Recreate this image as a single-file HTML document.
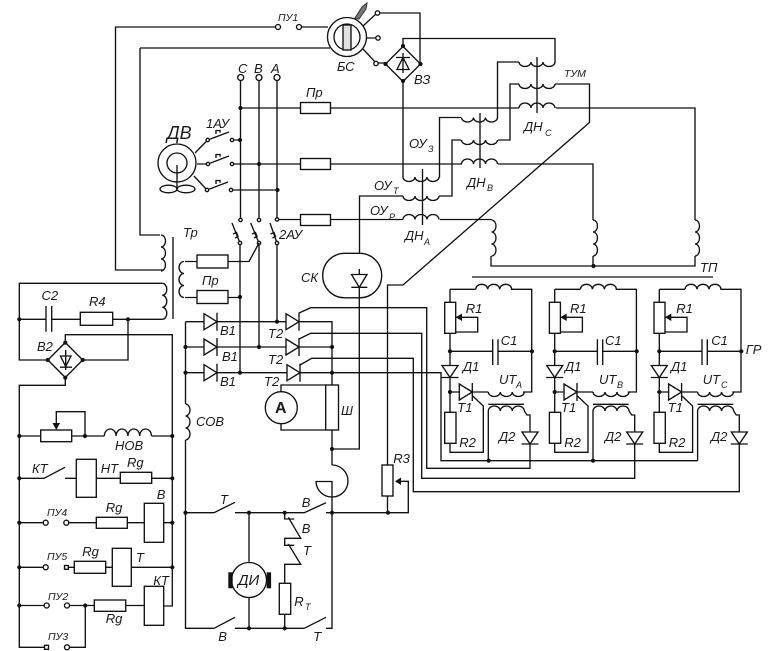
<!DOCTYPE html>
<html><head><meta charset="utf-8"><style>
html,body{margin:0;padding:0;background:#fff}
svg{display:block}
.l{fill:none;stroke:#111;stroke-width:1.35}
.w{fill:#fff;stroke:#111;stroke-width:1.35}
.k{fill:#111;stroke:none}
text{font-family:"Liberation Sans","Noto Sans CJK SC",sans-serif;font-style:italic;font-size:13px;fill:#1a1a1a}
.s{font-size:10.5px}.u{font-size:9px}
</style></head><body>
<svg width="768" height="651" viewBox="0 0 768 651" xmlns="http://www.w3.org/2000/svg">
<defs>
<circle id="d" r="2.1" class="k"/>
<circle id="o" r="2.5" class="w"/>
<circle id="q" r="1.7" class="w"/>
<g id="dr"><path class="w" d="M-13 -8L0 0L-13 8Z"/><path class="l" d="M0 -9V9"/></g>
<g id="dd"><path class="w" d="M-8 -12H8L0 0Z"/><path class="l" d="M-8.500 0H8.500"/></g>
<g id="c3d"><path class="l" d="M0 0a6 4.500 0 0 0 12 0a6 4.500 0 0 0 12 0a6 4.500 0 0 0 12 0"/></g>
<g id="c3u"><path class="l" d="M0 0a6 5 0 0 1 12 0a6 5 0 0 1 12 0a6 5 0 0 1 12 0"/></g>
<g id="v3"><path class="l" d="M0 0a4.500 6 0 0 1 0 12a4.500 6 0 0 1 0 12a4.500 6 0 0 1 0 12"/></g>
<g id="mod">
<path class="l" d="M450 289.300H475.700M511 289.300H531.700V392H523M450 289.300V412M450 351.300H492.700M498 351.300H531.700M492.700 339.300V365M498 339.300V365M450 392H488.300M450 443V452.300H483.300V406L472.700 396M455.700 317.300H477.700V332H455.700M488.300 404.300H524M488.300 411V460.700M524.300 411L527 415H530V432"/>
<use href="#c3u" x="475.700" y="289.300"/>
<use href="#c3d" x="488.300" y="392"/>
<use href="#c3u" x="488.300" y="411"/>
<rect class="w" x="444.700" y="302.300" width="11" height="31"/>
<rect class="w" x="444.700" y="412.300" width="11.300" height="31"/>
<path class="k" d="M455.700 317.300L462 313.500V321Z"/>
<use href="#dd" x="450" y="377.500"/>
<use href="#dr" x="472.300" y="392"/>
<use href="#d" x="450" y="351.300"/><use href="#d" x="532" y="351.300"/><use href="#d" x="450" y="392"/>
<use href="#dd" x="530" y="444"/>
</g>
</defs>

<!-- top wiring -->
<path class="l" d="M275.500 27H115.500V270H163M140 48V235H160M140 48H330M302 27H328"/>
<use href="#v3" x="161" y="235"/>
<path class="l" d="M173 237V319"/>
<!-- BC -->
<path class="l" d="M363 26L377 13H420V64M367 38H378M363 49L376 63H385M403 46V38.500H555V46M403 81V177M555 63V38.500"/>
<circle class="w" cx="347" cy="37" r="19.500"/>
<circle class="w" cx="347" cy="37" r="13"/>
<rect x="343" y="25" width="8" height="25" fill="#e0e0e0" stroke="#111" stroke-width="1.350"/>
<path d="M355 18L362 7L367 3L366 9L359 19Z" fill="#777" stroke="#333" stroke-width="1"/>
<circle class="w" cx="377.500" cy="13" r="2.200"/><circle class="w" cx="378" cy="38" r="2.200"/><circle class="w" cx="376" cy="63.500" r="2.200"/>
<path class="w" d="M403 46.500L420.500 64L403 81.500L385.500 64Z"/>
<path class="l" d="M403 53V73M396 57.500H410M397 69.500H409L403 57.500Z"/>
<use href="#d" x="403" y="46"/><use href="#d" x="420.500" y="64"/><use href="#d" x="403" y="81"/><use href="#d" x="385.500" y="64"/>
<use href="#o" x="278" y="27"/><use href="#o" x="299" y="27"/>

<!-- phases -->
<path class="l" d="M240.500 80V220M259 80V220M277 80V219M240.500 108H519M556 108H695V220M695 256V266H491V256M491.500 219.500H440M277 219.500H403M259 164H462M498 164H593V220M593 256V266M231 140H240.500M231 164H259M231 190H277"/>
<path class="l" d="M439 177H439.500V117.500H461M497.500 118V62H519M359.500 253V196H403M439 196H452V140H461M498 140H510V84H519M555 84H589.500V122.500L403 285H387.500V465M387.500 496V512.700"/>
<use href="#c3d" x="403" y="177"/><use href="#c3d" x="403" y="196"/><use href="#c3u" x="403" y="219.500"/>
<use href="#c3d" x="461.500" y="117.500"/><use href="#c3d" x="461.500" y="140"/><use href="#c3u" x="461.500" y="164"/>
<use href="#c3d" x="519" y="62"/><use href="#c3d" x="519" y="84"/><use href="#c3u" x="519" y="108"/>
<use href="#v3" x="491.500" y="220"/><use href="#v3" x="593" y="220"/><use href="#v3" x="695" y="220"/>
<path class="l" d="M422.500 169V225M480 113V168M537 57V113M472 277H713"/>
<circle class="w" cx="240.700" cy="77.500" r="3"/><circle class="w" cx="259" cy="77.500" r="3"/><circle class="w" cx="277" cy="77.500" r="3"/>
<rect class="w" x="300.500" y="102.500" width="30" height="11"/>
<rect class="w" x="300.500" y="158.500" width="30" height="11"/>
<rect class="w" x="300.500" y="214.500" width="30" height="11"/>
<use href="#d" x="240.500" y="108"/><use href="#d" x="240" y="140"/><use href="#d" x="259" y="164"/><use href="#d" x="277.500" y="190"/><use href="#d" x="593.500" y="266"/>

<!-- motor DV -->
<circle class="l" cx="177" cy="163" r="19"/>
<circle class="l" cx="177" cy="163" r="10"/>
<path class="l" d="M177 165V190"/>
<ellipse class="l" cx="168.500" cy="189" rx="8.500" ry="3.800"/>
<ellipse class="l" cx="186" cy="189" rx="9" ry="3.800"/>
<path class="l" d="M195 153L207.700 140L229 132M197 164H208L229 156M194 176L207 190L228 182"/>
<path class="l" d="M216 134V130.500H220V132.800M216 158V154.500H220V156.800M216 184V180.500H220V182.800"/>
<use href="#q" x="207.700" y="140"/><use href="#q" x="208" y="164"/><use href="#q" x="207" y="190"/>
<use href="#q" x="232" y="140"/><use href="#q" x="232" y="164"/><use href="#q" x="231" y="190"/>

<!-- 2AU -->
<path class="l" d="M232 223L240 243V372.700M250.700 223L259 243V347M270 223L277 243V321.700"/>
<path class="l" d="M233 234L236.500 232.500L238 236.500L235 238M252 234L255.500 232.500L257 236.500L254 238M270.500 234L274 232.500L275.500 236.500L272.500 238"/>
<use href="#q" x="240.500" y="220"/><use href="#q" x="259" y="220"/><use href="#q" x="277" y="219.500"/>
<use href="#q" x="240" y="243"/><use href="#q" x="259" y="243"/><use href="#q" x="277" y="243"/>

<!-- Tr secondary -->
<path class="l" d="M185 261.500H249L259 243M185 297.500H240"/>
<path class="l" d="M184 261.500a5 6 0 0 0 0 12a5 6 0 0 0 0 12a5 6 0 0 0 0 12"/>
<rect class="w" x="197" y="255" width="31" height="13"/>
<rect class="w" x="197" y="290.500" width="31" height="13"/>
<use href="#d" x="240" y="297"/>

<!-- rectifier -->
<path class="l" d="M185.500 321.700H332V465M185.500 347H332M185.500 372.700H441V460.700H697.700M185.500 321.700V404M185.500 440V628.300H214M332 430V449H359.300V287M359.300 269V275"/>
<path class="l" d="M299 313L310.700 307.700H426.700V468.300H530V444M299 339L310.700 333.300H421.700V478.300H634.700V444M300 365L311.700 358.300H413.300V491.700H739.300V444"/>
<use href="#v3" x="185.500" y="404"/>
<use href="#dr" x="217" y="321.700"/><use href="#dr" x="217" y="347"/><use href="#dr" x="217" y="372.700"/>
<use href="#dr" x="299" y="321.700"/><use href="#dr" x="299" y="347"/><use href="#dr" x="300" y="372.700"/>
<use href="#d" x="277" y="321.700"/><use href="#d" x="259" y="347"/><use href="#d" x="240" y="372.700"/>
<use href="#d" x="185.500" y="347"/><use href="#d" x="185.500" y="372.700"/><use href="#d" x="332" y="347"/><use href="#d" x="332" y="372.700"/><use href="#d" x="332" y="449"/>
<path class="l" d="M281 392V385H325.700M281 424V430H325.700"/>
<rect class="w" x="325.700" y="385" width="12.800" height="45"/>
<circle class="w" cx="281.300" cy="407.700" r="16"/>
<!-- SK -->
<rect class="l" x="322.700" y="253.300" width="59" height="44.500" rx="22" ry="22"/>
<path class="w" d="M351.500 274.500H367L359.300 287.300Z"/><path class="l" d="M351.300 287.300H367.300"/>
<!-- arc -->
<path class="l" d="M332 465A16 16 0 1 1 316 481.500H332V497"/>
<path class="l" d="M332 497V628.300H326M304.300 628.300H235M214 628.300L235 617.300M304.300 628.300L326 617.300"/>
<!-- lower -->
<path class="l" d="M185.500 512.700H214L235 502.300M235 512.700H304.300L326 502.700M326 512.700H408.300V481.300H397"/>
<path class="l" d="M249 512.700V561.700M249 597.700V628.300"/>
<circle class="w" cx="249" cy="580" r="17.500"/>
<rect x="228.300" y="572.300" width="4.400" height="16" class="k"/><rect x="266.700" y="572.300" width="4.400" height="16" class="k"/>
<path class="l" d="M284.700 512.700V519H294.300M288.300 517.300L300.700 538.300H284.700V545.300H294.300M288.300 544L300.700 564.300H284.700V628.300"/>
<rect class="w" x="279.300" y="583.300" width="11.400" height="31"/>
<rect class="w" x="382" y="465" width="11" height="31"/>
<path class="k" d="M395 481.300L401 477.500V485Z"/>
<use href="#d" x="185.500" y="512.700"/><use href="#d" x="249" y="512.700"/><use href="#d" x="284.700" y="512.700"/><use href="#d" x="332" y="512.700"/><use href="#d" x="388" y="512.700"/><use href="#d" x="249" y="628.300"/><use href="#d" x="284.700" y="628.300"/>

<!-- modules -->
<use href="#mod"/>
<use href="#mod" x="104.700"/>
<use href="#mod" x="209.300"/>
<use href="#d" x="488.700" y="460.700"/><use href="#d" x="593" y="460.700"/>

<!-- left -->
<path class="l" d="M162.300 283.300H19.300V360H47.700M19.300 319.300H46M51.700 319.300H162.300M46 306V331.700M51.700 306V331.700M128 319.300V360H82.700M65.300 342.700V334.700H172.300V606H163.300M65.300 377.700V385.300H19.300V647.300H44"/>
<use href="#v3" x="162.300" y="283.300"/>
<rect class="w" x="80.300" y="312.300" width="32.400" height="13"/>
<path class="w" d="M65.300 342.500L82.700 360L65.300 377.500L47.900 360Z"/>
<path class="l" d="M65.700 350V370M60.500 356H71L65.700 366.500ZM60 367.200H72"/>
<use href="#d" x="19.300" y="319.300"/><use href="#d" x="128" y="319.300"/><use href="#d" x="47.700" y="360"/><use href="#d" x="82.700" y="360"/><use href="#d" x="65.300" y="342.700"/><use href="#d" x="65.300" y="377.700"/>
<!-- HOB -->
<path class="l" d="M19.300 436H40.700M71.700 436H104.300M151.700 436H172.300M85 436V411.700H56.300V425"/>
<path class="k" d="M56.300 430L52.500 423H60Z"/>
<rect class="w" x="40.700" y="430" width="31" height="11.700"/>
<path class="l" d="M104.300 436a5.900 7 0 0 1 11.800 0a5.900 7 0 0 1 11.800 0a5.900 7 0 0 1 11.800 0a5.900 7 0 0 1 11.800 0"/>
<!-- rows -->
<path class="l" d="M19.300 478.300H44L65 467.300M65 478.300H76.300M96.300 478.300H120.300M151.700 478.300H172.300"/>
<rect class="w" x="76.300" y="459.300" width="20" height="38"/>
<rect class="w" x="120.300" y="472.300" width="31.400" height="11"/>
<path class="l" d="M19.300 522.700H43.300M68.800 522.700H96.300M127.300 522.700H144.300M163.700 522.700H172.300"/>
<rect class="w" x="96.300" y="517.300" width="31" height="11"/>
<rect class="w" x="144.300" y="503.300" width="19.400" height="39"/>
<use href="#o" x="45.700" y="522.700"/><use href="#o" x="66.300" y="522.700"/>
<path class="l" d="M19.300 567.300H43.300M68.500 567.300H74.300M105.700 567.300H112.300M131.300 567.300H172.300"/>
<rect class="w" x="74.300" y="561.300" width="31.400" height="12"/>
<rect class="w" x="112.300" y="548.300" width="19" height="38"/>
<use href="#o" x="45.700" y="567.300"/><rect class="w" x="64.500" y="565.500" width="3.800" height="3.800"/>
<path class="l" d="M19.300 605.500H44M69.500 605.500H94.300M125.700 605.500H144.300M85.300 605.500V647.300H69.500"/>
<rect class="w" x="94.300" y="600" width="31.400" height="11.300"/>
<rect class="w" x="144.300" y="586.300" width="19.400" height="39"/>
<use href="#o" x="46.700" y="605.500"/><use href="#o" x="67" y="605.500"/><use href="#d" x="85.300" y="605.500"/>
<rect class="w" x="44.500" y="645.300" width="4" height="4"/><use href="#o" x="67" y="647.300"/>
<use href="#d" x="19.300" y="436"/><use href="#d" x="19.300" y="478.300"/><use href="#d" x="19.300" y="522.700"/><use href="#d" x="19.300" y="567.300"/><use href="#d" x="19.300" y="605.500"/>
<use href="#d" x="172.300" y="436"/><use href="#d" x="172.300" y="478.300"/><use href="#d" x="172.300" y="522.700"/><use href="#d" x="172.300" y="567.300"/><use href="#d" x="85" y="436"/>

<!-- labels -->
<text class="s" x="278" y="21">ПУ1</text>
<text x="337" y="71">БС</text>
<text x="414" y="84">ВЗ</text>
<text x="238" y="73">С</text><text x="254" y="73">В</text><text x="271" y="73">А</text>
<text x="306" y="97">Пр</text>
<text x="206" y="128">1АУ</text>
<text x="167" y="139" style="font-size:18px">ДВ</text>
<text x="409" y="148">ОУ</text><text class="u" x="428" y="152">З</text>
<text x="374" y="190">ОУ</text><text class="u" x="393" y="194">Т</text>
<text x="370" y="215">ОУ</text><text class="u" x="389" y="220">Р</text>
<text x="405" y="240">ДН</text><text class="u" x="424" y="245">А</text>
<text x="467" y="187">ДН</text><text class="u" x="487" y="191">В</text>
<text x="524" y="131">ДН</text><text class="u" x="545" y="136">С</text>
<text class="s" x="564" y="77">ТУМ</text>
<text x="700" y="272">ТП</text>
<text x="183" y="237">Тр</text>
<text x="279" y="239">2АУ</text>
<text x="202" y="285">Пр</text>
<text x="301" y="282">СК</text>
<text x="220" y="335">В1</text><text x="222" y="361">В1</text><text x="220" y="386">В1</text>
<text x="268" y="338">Т2</text><text x="268" y="364">Т2</text><text x="264" y="386">Т2</text>
<text x="275" y="413" style="font-style:normal;font-weight:bold;font-size:16px">А</text>
<text x="341" y="415">Ш</text>
<text x="196" y="426">СОВ</text>
<text x="41.500" y="300">С2</text><text x="89" y="306">R4</text><text x="37" y="351">В2</text>
<text x="115" y="450">НОВ</text>
<text x="32" y="473">КТ</text><text x="100.700" y="473">НТ</text><text x="127" y="467">Rg</text>
<text class="s" x="47" y="516">ПУ4</text><text x="105.700" y="512">Rg</text><text x="156.700" y="499">В</text>
<text class="s" x="47" y="560">ПУ5</text><text x="82.300" y="556">Rg</text><text x="136" y="562">Т</text>
<text class="s" x="48" y="600">ПУ2</text><text x="105.700" y="623">Rg</text><text x="153.300" y="585">КТ</text>
<text class="s" x="48" y="640">ПУ3</text>
<text x="220" y="504">Т</text><text x="301.700" y="507">В</text><text x="301.700" y="533">В</text><text x="303" y="555">Т</text>
<text x="294.300" y="606">R</text><text class="u" x="305" y="610">Т</text>
<text x="218.300" y="641">В</text><text x="313.300" y="641">Т</text>
<text x="393.300" y="463">R3</text>
<text x="238" y="585" style="font-size:15px">ДИ</text>
<text x="465.700" y="313">R1</text><text x="500.700" y="345">С1</text><text x="463" y="371">Д1</text><text x="499" y="384">UT</text><text class="u" x="516" y="388">А</text><text x="457.300" y="412">Т1</text><text x="459.300" y="447">R2</text><text x="499" y="441">Д2</text>
<text x="570" y="313">R1</text><text x="605" y="345">С1</text><text x="565" y="371">Д1</text><text x="599" y="384">UT</text><text class="u" x="617" y="388">В</text><text x="561" y="412">Т1</text><text x="564.300" y="447">R2</text><text x="605" y="441">Д2</text>
<text x="676.300" y="313">R1</text><text x="711.300" y="345">С1</text><text x="671" y="371">Д1</text><text x="702.700" y="384">UT</text><text class="u" x="721" y="388">С</text><text x="667.700" y="412">Т1</text><text x="668.700" y="447">R2</text><text x="711" y="441">Д2</text>
<text x="745.700" y="354">ГР</text>
</svg>
</body></html>
